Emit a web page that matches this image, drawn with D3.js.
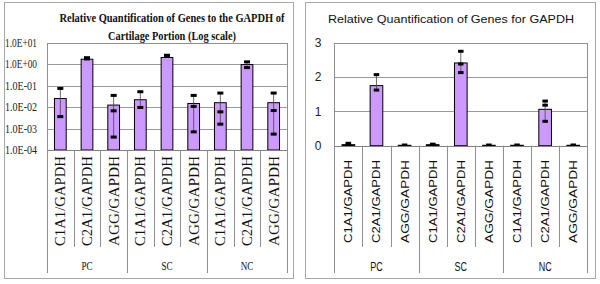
<!DOCTYPE html>
<html><head><meta charset="utf-8">
<script src="https://cdn.jsdelivr.net/npm/d3@7"></script>
<style>body{margin:0;background:#fff}svg{display:block}</style>
</head><body>
<svg id="c" width="600" height="284"></svg>
<script>
const groups = ["PC", "SC", "NC"];
const genes = ["C1A1/GAPDH", "C2A1/GAPDH", "AGG/GAPDH"];
const categories = groups.flatMap(g => genes.map(n => g + "|" + n));

// Left chart (log scale)
const logValues = [0.025, 1.7, 0.0124, 0.022, 2.05, 0.0147, 0.016, 0.96, 0.016];
const logMarks = [[0.074, 0.0036], [2.0, 1.75], [0.035, 0.0067, 0.0004], [0.052, 0.0096], [2.6, 2.3],
                  [0.035, 0.0107, 0.0007], [0.045, 0.006, 0.0016], [1.28, 0.69], [0.045, 0.0069, 0.00055]];
const logTicks = [1e1, 1e0, 1e-1, 1e-2, 1e-3, 1e-4];
const logTickLabels = ["1.0E+01", "1.0E+00", "1.0E-01", "1.0E-02", "1.0E-03", "1.0E-04"];

// Right chart (linear)
const linValues = [0.03, 1.75, 0.012, 0.03, 2.41, 0.012, 0.012, 1.06, 0.012];
const linMarks = [[0.07, 0.04], [2.07, 1.62], [0.02], [0.045, 0.03], [2.75, 2.38, 2.13],
                  [0.02], [0.02], [1.30, 1.18, 0.71], [0.02]];
const linTicks = [0, 1, 2, 3];

const svg = d3.select("#c");
const FILL = "#CC99FF";

function panel(o) {
  const g = svg.append("g");
  g.append("rect").attr("x", o.box[0] + 0.5).attr("y", o.box[1] + 0.5)
    .attr("width", o.box[2] - o.box[0]).attr("height", o.box[3] - o.box[1])
    .attr("fill", "#fff").attr("stroke", "#a8a8a8");
  const x = d3.scaleBand().domain(categories).range([o.x0, o.x1]);
  const y = o.y;
  // gridlines
  g.selectAll(".grid").data(o.ticks).join("line")
    .attr("x1", o.x0).attr("x2", o.x1)
    .attr("y1", d => Math.round(y(d)) + 0.5).attr("y2", d => Math.round(y(d)) + 0.5)
    .attr("stroke", "#9a9a9a");
  // plot border
  g.append("rect").attr("x", Math.round(o.x0) + 0.5).attr("y", Math.round(y(o.topVal)) + 0.5)
    .attr("width", Math.round(o.x1) - Math.round(o.x0)).attr("height", Math.round(o.yb) - Math.round(y(o.topVal)))
    .attr("fill", "none").attr("stroke", "#909090");
  // tick labels
  g.selectAll(".tl").data(o.ticks).join("text")
    .attr("x", o.tickX).attr("y", d => y(d)).attr("dy", "0.35em")
    .attr("text-anchor", o.tickAnchor)
    .style("font-family", o.font).style("font-size", o.tickSize + "px").attr("fill", "#222")
    .each(function () { if (o.tickLen) d3.select(this).attr("textLength", o.tickLen).attr("lengthAdjust", "spacingAndGlyphs"); })
    .text((d, i) => o.tickLabels[i]);
  const bw = x.bandwidth() * o.barFrac;
  // bars
  g.selectAll(".bar").data(o.values).join("rect")
    .attr("x", (d, i) => x(categories[i]) + (x.bandwidth() - bw) / 2)
    .attr("y", d => y(d))
    .attr("width", bw)
    .attr("height", d => o.yb - y(d))
    .attr("fill", FILL).attr("stroke", "#000").attr("stroke-width", 1);
  // whiskers and point marks
  o.marks.forEach((m, i) => {
    const cx = x(categories[i]) + x.bandwidth() / 2;
    g.append("line").attr("x1", cx).attr("x2", cx)
      .attr("y1", y(d3.max(m))).attr("y2", y(Math.min(d3.min(m), o.values[i])))
      .attr("stroke", "#444").attr("stroke-width", 0.8);
    m.forEach(v => {
      g.append("rect").attr("x", cx - o.dashW / 2).attr("y", y(v) - 1.5)
        .attr("width", o.dashW).attr("height", 3).attr("fill", "#000");
    });
  });
  // axis line
  g.append("line").attr("x1", o.x0).attr("x2", o.x1)
    .attr("y1", Math.round(o.yb) + 0.5).attr("y2", Math.round(o.yb) + 0.5).attr("stroke", "#808080");
  // category separators
  categories.forEach((c, i) => {
    const xx = Math.round(x(c)) + 0.5;
    g.append("line").attr("x1", xx).attr("x2", xx).attr("y1", o.yb).attr("y2", i % 3 === 0 ? 273 : 247)
      .attr("stroke", "#909090");
  });
  g.append("line").attr("x1", Math.round(o.x1) + 0.5).attr("x2", Math.round(o.x1) + 0.5)
    .attr("y1", o.yb).attr("y2", 273).attr("stroke", "#909090");
  // category labels
  categories.forEach((c, i) => {
    const cx = x(c) + x.bandwidth() / 2;
    g.append("text")
      .attr("transform", `translate(${cx + o.catDx},${o.catTop}) rotate(-90)`)
      .attr("text-anchor", "end")
      .style("font-family", o.font).style("font-size", o.catSize + "px").attr("fill", "#111")
      .attr("textLength", o.catLen).attr("lengthAdjust", "spacingAndGlyphs")
      .text(c.split("|")[1]);
  });
  // group labels
  groups.forEach((gr, gi) => {
    const cx = x(categories[gi * 3 + 1]) + x.bandwidth() / 2;
    g.append("text").attr("transform", `translate(${cx},${o.grpY}) scale(${o.grpScale},1)`)
      .attr("text-anchor", "middle")
      .style("font-family", o.font).style("font-size", o.grpSize + "px").attr("fill", "#111")
      .text(gr);
  });
  // title
  o.title.forEach(tt => {
    g.append("text").attr("x", tt.x).attr("y", tt.y).attr("text-anchor", "middle")
      .style("font-family", o.font).style("font-size", o.titleSize + "px")
      .style("font-weight", o.titleWeight).attr("fill", "#111")
      .attr("textLength", tt.len).attr("lengthAdjust", "spacingAndGlyphs")
      .text(tt.t);
  });
}

panel({
  box: [4, 2, 293, 278],
  x0: 47, x1: 287, yb: 150, topVal: 1e1,
  y: d3.scaleLog().domain([1e-4, 1e1]).range([150, 42.7]),
  ticks: logTicks, tickLabels: logTickLabels, tickX: 37, tickAnchor: "end", tickSize: 12, tickLen: 32,
  values: logValues, marks: logMarks, barFrac: 0.44, dashW: 6,
  font: "'Liberation Serif', 'Times New Roman', serif",
  catDx: 5, catTop: 156, catSize: 14, catLen: 90,
  grpY: 270, grpSize: 13, grpScale: 0.7,
  titleSize: 12, titleWeight: "bold",
  title: [{t: "Relative Quantification of Genes to the GAPDH of", x: 172, y: 22, len: 225},
          {t: "Cartilage Portion (Log scale)", x: 172, y: 40, len: 128}]
});

panel({
  box: [305, 2, 595, 278],
  x0: 334.3, x1: 587.3, yb: 145.7, topVal: 3,
  y: d3.scaleLinear().domain([0, 3]).range([145.7, 42.7]),
  ticks: linTicks, tickLabels: linTicks.map(String), tickX: 318, tickAnchor: "middle", tickSize: 12, tickLen: 0,
  values: linValues, marks: linMarks, barFrac: 0.45, dashW: 5.5,
  font: "'Liberation Sans', Arial, sans-serif",
  catDx: 4, catTop: 160, catSize: 11, catLen: 83,
  grpY: 271, grpSize: 12, grpScale: 0.75,
  titleSize: 11.5, titleWeight: "normal",
  title: [{t: "Relative Quantification of Genes for GAPDH", x: 451, y: 23, len: 246}]
});
</script>
</body></html>
